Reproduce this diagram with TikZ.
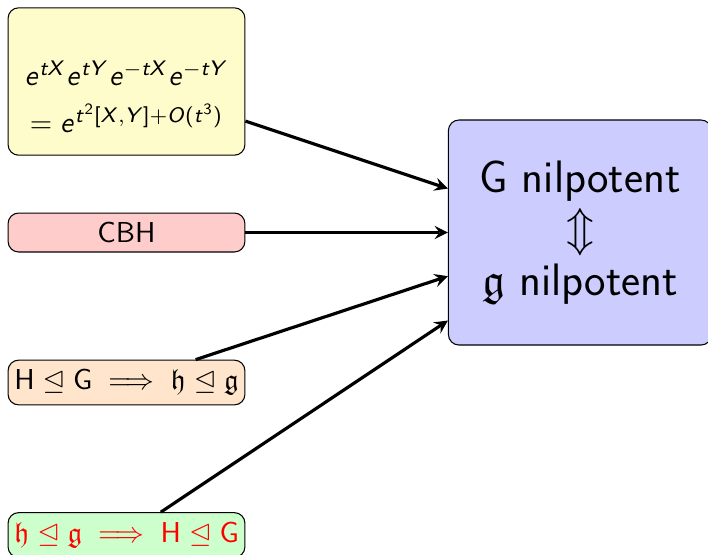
\documentclass[tikz,border=0pt]{standalone}
\usepackage{amsmath, amssymb}
\usepackage{tikz}
\usetikzlibrary{positioning}
\renewcommand{\familydefault}{\sfdefault}
% sans serif letters and digits in math, as on a slide
\DeclareSymbolFont{sfslanted}{OT1}{cmss}{m}{sl}
\SetSymbolFont{operators}{normal}{OT1}{cmss}{m}{n}
\DeclareMathSymbol{e}{\mathalpha}{sfslanted}{`e}
\DeclareMathSymbol{t}{\mathalpha}{sfslanted}{`t}
\DeclareMathSymbol{X}{\mathalpha}{sfslanted}{`X}
\DeclareMathSymbol{Y}{\mathalpha}{sfslanted}{`Y}
\DeclareMathSymbol{O}{\mathalpha}{sfslanted}{`O}

\tikzset{
    theorybox/.style={draw, rounded corners=4pt, line width=0.4pt, align=center,
        minimum width=90pt, inner sep=1pt},
    imply/.style={-stealth, line width=1.2pt}
}

\begin{document}
\begin{tikzpicture}[x=0.38pt, y=-0.38pt, font=\fontsize{10.95}{13.6}\selectfont]

    % frame of the picture
    \useasboundingbox (0,0) rectangle (708,554);

    % left column: the ingredients
    \node[theorybox, fill=yellow!20, minimum height=56pt] (comm) at (126.5,81.5)
        {\rule{0pt}{21pt}$e^{tX}e^{tY}e^{-tX}e^{-tY}$\\[4.3pt] $= e^{t^2[X,Y]+O(t^3)}$};
    \node[theorybox, fill=red!20, minimum height=14.8pt] (cbh) at (126.5,232.5) {CBH};
    \node[theorybox, fill=orange!20, minimum height=17pt] (ideal) at (126.5,382.5)
        {$\text{H} \trianglelefteq \text{G} \implies \mathfrak{h} \trianglelefteq \mathfrak{g}$};
    \node[theorybox, fill=green!20, minimum height=17pt, text=red] (conv) at (126.5,535)
        {$\mathfrak{h} \trianglelefteq \mathfrak{g} \implies \text{H} \trianglelefteq \text{G}$};

    % right: the statement
    \node[theorybox, fill=blue!20, minimum width=100pt, minimum height=85.5pt,
        font=\fontsize{17.28}{19.6}\selectfont] (nil) at (580,232.5)
        {G nilpotent\\ $\Updownarrow$\\ $\mathfrak{g}$ nilpotent};

    % arrows
    \draw[imply] (comm) -- (nil);
    \draw[imply] (cbh) -- (nil);
    \draw[imply] (ideal) -- (nil);
    \draw[imply] (conv) -- (nil);

\end{tikzpicture}
\end{document}
